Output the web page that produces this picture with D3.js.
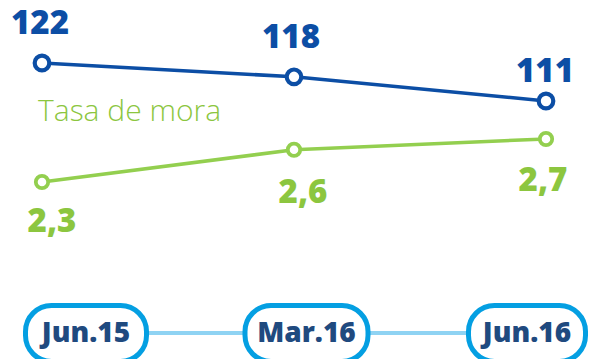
<!DOCTYPE html>
<html>
<head>
<meta charset="utf-8">
<script src="https://cdn.jsdelivr.net/npm/d3@7"></script>
<style>
  html, body { margin: 0; padding: 0; background: #ffffff; }
  svg { display: block; }
</style>
</head>
<body>
<svg id="chart" width="590" height="359"></svg>
<script>
// Periods and the two indicators
const periods = ["Jun.15", "Mar.16", "Jun.16"];
const loanValues = [122, 118, 111];
const delinquencyValues = [2.3, 2.6, 2.7];
const delinquencyLabels = ["2,3", "2,6", "2,7"];
const seriesName = "Tasa de mora";

// Label nudges relative to each marker (layout only)
const loanLabelOffset = [[-2, -29], [-3, -29], [-1, -19]];
const rateLabelOffset = [[10, 50], [9, 53], [-3, 52]];

const blue = "#0c4ea5";
const green = "#8cc63f";
const greenLine = "#93cf4f";
const pillStroke = "#049fe2";
const connector = "#8fd3f3";
const navy = "#1f4a7f";

const svg = d3.select("#chart");

// Horizontal positions of the markers
const x = d3.scalePoint().domain(periods).range([42, 546]);

// Each indicator has its own vertical scale
const yLoan = d3.scaleLinear().domain([111, 122]).range([101, 63]);
const yRate = d3.scaleLinear().domain([2.3, 2.7]).range([182, 139]);

// Pill axis along the bottom
const xPill = d3.scalePoint().domain(periods).range([86, 527]);
const pillW = [126, 128, 122];
const pillY = 332;

svg.append("line")
  .attr("x1", xPill(periods[0])).attr("x2", xPill(periods[periods.length - 1]))
  .attr("y1", pillY + 1).attr("y2", pillY + 1)
  .attr("stroke", connector).attr("stroke-width", 4);

const pills = svg.append("g").selectAll("g")
  .data(periods).join("g")
  .attr("transform", d => `translate(${xPill(d)},${pillY})`);

pills.append("rect")
  .attr("x", (d, i) => -pillW[i] / 2 + 2.5)
  .attr("y", -26.5)
  .attr("width", (d, i) => pillW[i] - 5)
  .attr("height", 56)
  .attr("rx", 26).attr("ry", 26)
  .attr("fill", "#ffffff")
  .attr("stroke", pillStroke)
  .attr("stroke-width", 5);

pills.append("text")
  .attr("text-anchor", "middle")
  .attr("y", 10)
  .attr("font-family", "'Open Sans', sans-serif")
  .attr("font-weight", 800)
  .attr("font-size", 28)
  .attr("fill", navy)
  .text(d => d);

// Loan line
const loanLine = d3.line().x((d, i) => x(periods[i])).y(d => yLoan(d));
svg.append("path")
  .datum(loanValues)
  .attr("d", loanLine)
  .attr("fill", "none")
  .attr("stroke", blue)
  .attr("stroke-width", 3.5);

svg.append("g").selectAll("circle")
  .data(loanValues).join("circle")
  .attr("cx", (d, i) => x(periods[i]))
  .attr("cy", d => yLoan(d))
  .attr("r", 7.3)
  .attr("fill", "#ffffff")
  .attr("stroke", blue)
  .attr("stroke-width", 4.2);

svg.append("g").selectAll("text")
  .data(loanValues).join("text")
  .attr("x", (d, i) => x(periods[i]) + loanLabelOffset[i][0])
  .attr("y", (d, i) => yLoan(d) + loanLabelOffset[i][1])
  .attr("text-anchor", "middle")
  .attr("font-family", "'Open Sans', sans-serif")
  .attr("font-weight", 800)
  .attr("font-size", 33)
  .attr("fill", blue)
  .text(d => d);

// Delinquency rate line
const rateLine = d3.line().x((d, i) => x(periods[i])).y(d => yRate(d));
svg.append("path")
  .datum(delinquencyValues)
  .attr("d", rateLine)
  .attr("fill", "none")
  .attr("stroke", greenLine)
  .attr("stroke-width", 3.5);

svg.append("g").selectAll("circle")
  .data(delinquencyValues).join("circle")
  .attr("cx", (d, i) => x(periods[i]))
  .attr("cy", d => yRate(d))
  .attr("r", 6.2)
  .attr("fill", "#ffffff")
  .attr("stroke", greenLine)
  .attr("stroke-width", 3.8);

svg.append("g").selectAll("text")
  .data(delinquencyValues).join("text")
  .attr("x", (d, i) => x(periods[i]) + rateLabelOffset[i][0])
  .attr("y", (d, i) => yRate(d) + rateLabelOffset[i][1])
  .attr("text-anchor", "middle")
  .attr("font-family", "'Open Sans', sans-serif")
  .attr("font-weight", 800)
  .attr("font-size", 33)
  .attr("fill", green)
  .text((d, i) => delinquencyLabels[i]);

// Series caption
svg.append("text")
  .attr("x", 38)
  .attr("y", 121)
  .attr("font-family", "'Open Sans', sans-serif")
  .attr("font-weight", 300)
  .attr("font-size", 30)
  .attr("fill", green)
  .text(seriesName);
</script>
</body>
</html>
